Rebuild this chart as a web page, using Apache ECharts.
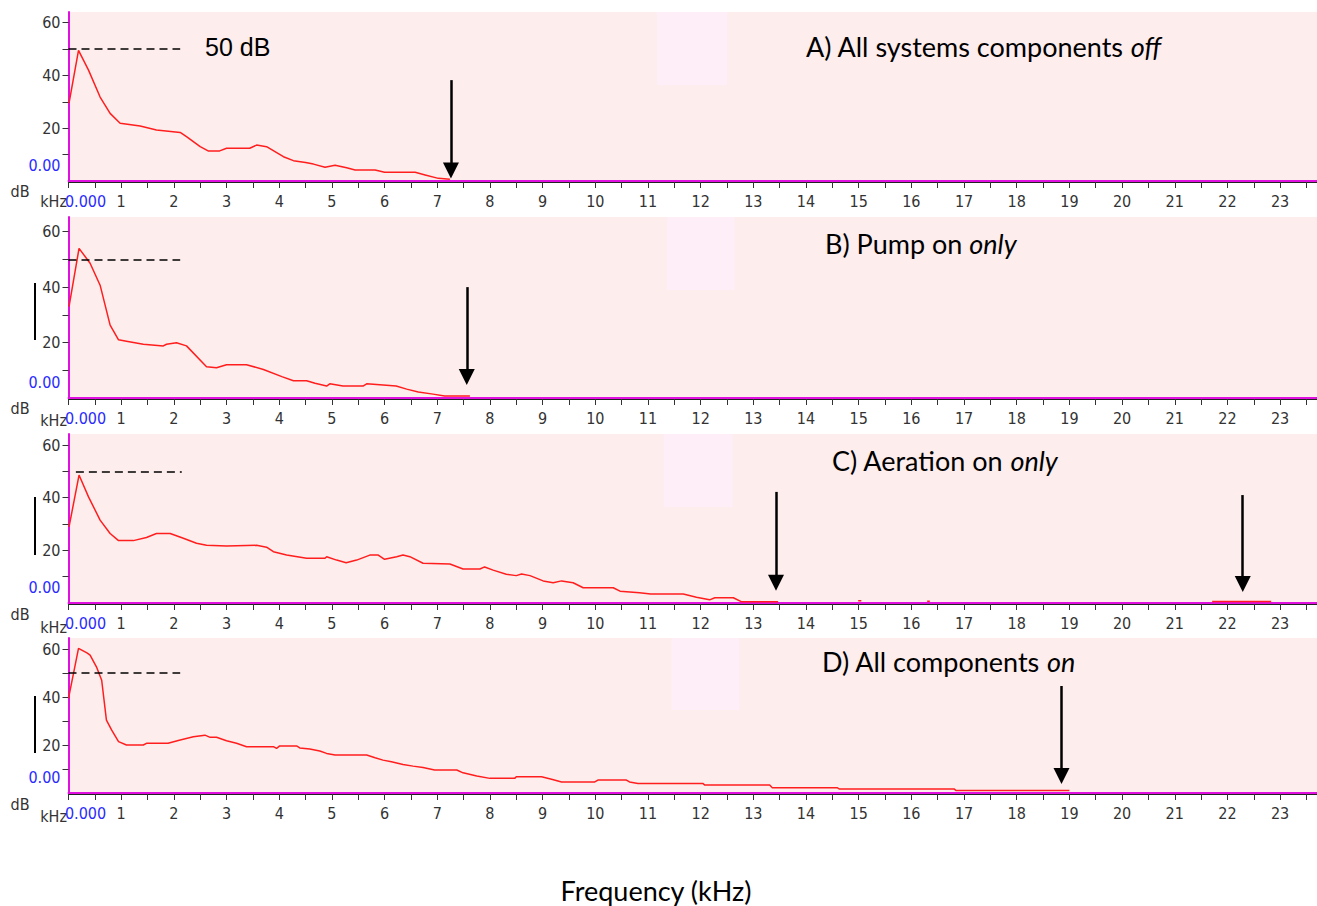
<!DOCTYPE html>
<html>
<head>
<meta charset="utf-8">
<script src="https://cdn.jsdelivr.net/npm/echarts@6/dist/echarts.min.js"></script>
<style>
html, body { margin: 0; padding: 0; background: #fff; }
#main { width: 1317px; height: 906px; }
</style>
</head>
<body>
<div id="main"></div>
<script>
// spectra, [kHz, dB]
var spectrumA = [
  [0.01, 29.5], [0.19, 49.5], [0.38, 42.0], [0.6, 31.8], [0.79, 25.6], [0.98, 21.9],
  [1.36, 20.8], [1.67, 19.3], [2.12, 18.4], [2.24, 16.8], [2.5, 13.0], [2.65, 11.4],
  [2.87, 11.4], [3.0, 12.4], [3.44, 12.4], [3.57, 13.6], [3.76, 13.0], [4.08, 9.2],
  [4.27, 7.7], [4.5, 7.0], [4.65, 6.4], [4.87, 5.2], [5.06, 6.0], [5.28, 5.0],
  [5.44, 4.2], [5.82, 4.2], [6.0, 3.3], [6.58, 3.3], [6.77, 2.3], [7.02, 1.0], [7.24, 0.7]
];
var spectrumB = [
  [0.01, 33.0], [0.2, 54.0], [0.41, 48.6], [0.6, 40.7], [0.79, 26.3], [0.95, 21.0],
  [1.1, 20.5], [1.42, 19.4], [1.8, 18.8], [1.86, 19.4], [2.05, 19.9], [2.24, 18.8],
  [2.62, 11.3], [2.81, 10.9], [3.0, 12.0], [3.38, 12.0], [3.7, 10.3], [4.05, 7.7],
  [4.27, 6.2], [4.52, 6.2], [4.68, 5.3], [4.9, 4.3], [4.96, 5.1], [5.21, 4.3],
  [5.59, 4.3], [5.66, 5.1], [6.22, 4.3], [6.42, 3.2], [6.64, 2.2], [6.92, 1.4],
  [7.14, 0.7], [7.62, 0.7]
];
var spectrumC = [
  [0.01, 28.9], [0.2, 48.6], [0.38, 40.3], [0.6, 31.5], [0.79, 26.4], [0.95, 23.7],
  [1.23, 23.7], [1.48, 24.9], [1.67, 26.4], [1.93, 26.4], [2.18, 24.6], [2.43, 22.7],
  [2.62, 21.9], [3.0, 21.7], [3.57, 21.9], [3.76, 21.2], [3.89, 19.5], [4.14, 18.2],
  [4.52, 17.0], [4.87, 17.0], [4.9, 17.6], [5.09, 16.3], [5.27, 15.3], [5.47, 16.3],
  [5.72, 18.2], [5.88, 18.2], [6.0, 16.6], [6.23, 17.6], [6.35, 18.2], [6.48, 17.6],
  [6.73, 15.1], [7.24, 14.8], [7.49, 12.9], [7.81, 12.9], [7.9, 13.7], [8.06, 12.5],
  [8.31, 10.9], [8.5, 10.4], [8.6, 11.0], [8.76, 10.4], [9.01, 8.4], [9.2, 7.7],
  [9.36, 8.4], [9.58, 7.7], [9.77, 5.8], [10.34, 5.8], [10.47, 4.5], [10.84, 3.9],
  [11.05, 3.4], [11.67, 3.4], [11.92, 2.2], [12.17, 1.2], [12.27, 2.0], [12.62, 2.0],
  [12.77, 0.5], [13.47, 0.5], [13.6, null],
  [14.99, 0.9], [15.05, 0.9], [15.2, null],
  [16.3, 0.7], [16.35, 0.7], [16.5, null],
  [21.71, 0.6], [22.83, 0.6]
];
var spectrumD = [
  [0.0, 39.4], [0.19, 60.3], [0.35, 58.4], [0.41, 57.5], [0.53, 52.6], [0.63, 47.0],
  [0.72, 30.4], [0.82, 26.2], [0.95, 21.4], [1.1, 20.0], [1.42, 20.0], [1.48, 20.7],
  [1.89, 20.7], [2.12, 22.1], [2.37, 23.4], [2.59, 24.1], [2.69, 23.2], [2.81, 23.2],
  [3.0, 21.8], [3.19, 20.7], [3.38, 19.3], [3.89, 19.3], [3.95, 18.6], [4.01, 19.6],
  [4.33, 19.6], [4.39, 18.8], [4.58, 18.3], [4.77, 17.5], [4.9, 16.5], [5.06, 15.8],
  [5.66, 15.8], [5.82, 14.7], [5.97, 13.7], [6.13, 13.0], [6.35, 11.9], [6.54, 11.2],
  [6.73, 10.6], [6.95, 9.6], [7.37, 9.6], [7.49, 8.4], [7.75, 7.1], [8.0, 6.1],
  [8.47, 6.1], [8.5, 6.8], [8.98, 6.8], [9.17, 5.7], [9.36, 4.6], [9.99, 4.6],
  [10.05, 5.4], [10.59, 5.4], [10.65, 4.6], [10.81, 4.0], [12.04, 4.0], [12.08, 3.3],
  [13.31, 3.3], [13.36, 2.2], [14.59, 2.2], [14.63, 1.7], [16.81, 1.7], [16.85, 1.0],
  [19.0, 1.0]
];
var panelTitles = [
  'A) All systems components {i|off}',
  'B) Pump on {i|only}',
  'C) Aeration on {i|only}',
  'D) All components {i|on}'
];
// frequencies the arrows point at (kHz)
var cutoffA = [7.26];
var cutoffB = [7.56];
var cutoffC = [13.43, 22.29];
var cutoffD = [18.85];
var refLevel = 50;
var dbLabels = [20, 40, 60];
var dbTicks = [10, 20, 30, 40, 50, 60];

var narrow = "'Liberation Sans Narrow', 'DejaVu Sans Condensed', sans-serif";
var titleFont = "Lato, 'Open Sans', sans-serif";

var panels = [
  { top: 12, bottom: 181, max: 64, data: spectrumA, cut: cutoffA, arrowTop: [38.2], arrowEnd: [4.0],
    dash: [0, 2.12], box: [11.17, 12.5, 36.3], tx: 806, ty: 46, dbY: 191, khzY: 201 },
  { top: 217, bottom: 398, max: 65.3, data: spectrumB, cut: cutoffB, arrowTop: [40.0], arrowEnd: [7.6],
    dash: [0, 2.12], box: [11.36, 12.65, 39], tx: 825, ty: 243, dbY: 408, khzY: 420 },
  { top: 434, bottom: 603, max: 64.2, data: spectrumC, cut: cutoffC, arrowTop: [42.2, 41.0], arrowEnd: [7.7, 7.2],
    dash: [0.14, 2.15], box: [11.3, 12.61, 36.5], tx: 832, ty: 460, dbY: 614, khzY: 627 },
  { top: 638, bottom: 793, max: 64.6, data: spectrumD, cut: cutoffD, arrowTop: [44.6], arrowEnd: [7.1],
    dash: [0, 2.12], box: [11.45, 12.74, 34.6], tx: 822, ty: 661, dbY: 804, khzY: 816 }
];

var halfTicks = [];
for (var t = 0; t <= 23.5; t += 0.5) halfTicks.push(t);
var wholeTicks = [];
for (var w = 0; w <= 23; w++) wholeTicks.push(w);

var chart = echarts.init(document.getElementById('main'), null, { renderer: 'svg' });

var grids = [], xAxes = [], overlayAxes = [], yAxes = [], series = [], graphics = [];

panels.forEach(function (p, i) {
  grids.push({
    left: 68.5, right: 0, top: p.top, height: p.bottom - p.top,
    show: true, backgroundColor: '#fdeded', borderWidth: 0
  });
  xAxes.push({
    gridIndex: i, type: 'value', min: 0, max: 23.7, interval: 0.5, offset: 1,
    axisLine: { onZero: false, lineStyle: { color: '#222', width: 1.2 } },
    axisTick: { length: 6, lineStyle: { color: '#333' }, customValues: halfTicks },
    axisLabel: {
      interval: 0, margin: 11, color: '#333', fontFamily: narrow, fontSize: 16,
      customValues: wholeTicks,
      formatter: function (v) {
        if (v === 0) return '{z|0.000}';
        return Math.abs(v - Math.round(v)) < 1e-6 ? String(Math.round(v)) : '';
      },
      rich: { z: { color: '#2a2aff', fontFamily: narrow, fontSize: 16, padding: [0, 0, 0, 34] } }
    },
    splitLine: { show: false }
  });
  overlayAxes.push({
    gridIndex: i, type: 'value', min: 0, max: 23.7, position: 'bottom', offset: -0.5,
    axisLine: { onZero: false, lineStyle: { color: '#e010e0', width: 2 } },
    axisTick: { show: false }, axisLabel: { show: false }, splitLine: { show: false }
  });
  yAxes.push({
    gridIndex: i, type: 'value', min: 0, max: p.max, interval: 10,
    axisLine: { show: true, onZero: false, lineStyle: { color: '#e010e0', width: 2 } },
    axisTick: { length: 6, lineStyle: { color: '#333' }, customValues: dbTicks },
    axisLabel: {
      margin: 8, color: '#333', fontFamily: narrow, fontSize: 16,
      customValues: [0].concat(dbLabels),
      formatter: function (v) {
        if (v === 0) return '{z|0.00}';
        return dbLabels.indexOf(v) >= 0 ? String(v) : '';
      },
      rich: { z: { color: '#2a2aff', fontFamily: narrow, fontSize: 16, padding: [0, 0, 32, 0] } }
    },
    splitLine: { show: false }
  });

  var lines = [
    [{ coord: [p.dash[0], refLevel], symbol: 'none', lineStyle: { color: '#000', width: 1.6, type: [8, 5] } },
     { coord: [p.dash[1], refLevel], symbol: 'none' }]
  ];
  p.cut.forEach(function (f, k) {
    lines.push([
      { coord: [f, p.arrowTop[k]], symbol: 'none', lineStyle: { color: '#000', width: 2.5, type: 'solid' } },
      { coord: [f, p.arrowEnd[k]], symbol: 'triangle', symbolSize: [16, 16] }
    ]);
  });

  series.push({
    type: 'line', xAxisIndex: i, yAxisIndex: i, data: p.data,
    showSymbol: false, symbol: 'none', connectNulls: false,
    lineStyle: { color: '#ff1e1e', width: 1.5 },
    itemStyle: { color: '#000' },
    markLine: {
      silent: true, symbol: ['none', 'none'], label: { show: false },
      lineStyle: { color: '#000' }, itemStyle: { color: '#000' }, data: lines
    },
    markArea: {
      silent: true, itemStyle: { color: '#fdeef7' },
      data: [[{ coord: [p.box[0], p.box[2]] }, { coord: [p.box[1], p.max] }]]
    }
  });

  graphics.push({
    type: 'text', x: p.tx, y: p.ty,
    style: {
      text: panelTitles[i], fill: '#000', fontFamily: titleFont, fontSize: 27,
      verticalAlign: 'middle',
      rich: { i: { fontStyle: 'italic', fontFamily: titleFont, fontSize: 27, fill: '#000' } }
    }
  });
  graphics.push({
    type: 'text', x: 20, y: p.dbY,
    style: { text: 'dB', fill: '#333', fontFamily: narrow, fontSize: 16, align: 'center', verticalAlign: 'middle' }
  });
  graphics.push({
    type: 'text', x: 67, y: p.khzY,
    style: { text: 'kHz', fill: '#333', fontFamily: narrow, fontSize: 16, align: 'right', verticalAlign: 'middle' }
  });
});

// 20 dB scale bars beside panels B-D
[[283, 340], [497, 555], [696, 753]].forEach(function (b) {
  graphics.push({ type: 'line', shape: { x1: 35, y1: b[0], x2: 35, y2: b[1] }, style: { stroke: '#000', lineWidth: 2 } });
});

graphics.push({
  type: 'text', x: 205, y: 47,
  style: { text: '50 dB', fill: '#000', fontFamily: "'Liberation Sans', Arial, sans-serif", fontSize: 25, verticalAlign: 'middle' }
});
graphics.push({
  type: 'text', x: 656, y: 890,
  style: { text: 'Frequency (kHz)', fill: '#000', fontFamily: titleFont, fontSize: 27, align: 'center', verticalAlign: 'middle' }
});

chart.setOption({
  animation: false,
  backgroundColor: '#fff',
  grid: grids,
  xAxis: xAxes.concat(overlayAxes),
  yAxis: yAxes,
  series: series,
  graphic: graphics
});
</script>
</body>
</html>
